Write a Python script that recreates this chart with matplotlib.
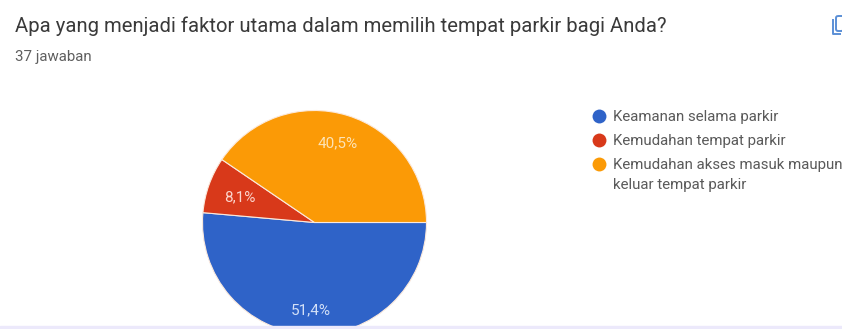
import matplotlib
matplotlib.use("Agg")
import matplotlib.pyplot as plt
from matplotlib.patches import FancyBboxPatch, Rectangle

W, H = 842, 329

title = "Apa yang menjadi faktor utama dalam memilih tempat parkir bagi Anda?"
subtitle = "37 jawaban"
categories = ["Keamanan selama parkir", "Kemudahan tempat parkir",
              "Kemudahan akses masuk maupun\nkeluar tempat parkir"]
values = [51.4, 8.1, 40.5]
pct_labels = ["51,4%", "8,1%", "40,5%"]
colors = ["#2f63c8", "#d8391a", "#fb9a06"]

plt.rcParams['font.family'] = ['Roboto', 'DejaVu Sans']

fig = plt.figure(figsize=(W / 100, H / 100), dpi=100, facecolor="white")

# pie goes a little past the bottom edge of the figure
cx, cy, r = 314.5, 222.5, 112
ax = fig.add_axes([(cx - r) / W, 1 - (cy + r) / H, 2 * r / W, 2 * r / H])
wedges, _ = ax.pie(values, colors=colors, startangle=0, counterclock=False, radius=1,
                   wedgeprops=dict(edgecolor="#fbe9dc", linewidth=0.8))
ax.set_xlim(-1, 1)
ax.set_ylim(-1, 1)

# overlay in pixel coordinates for the text and legend
over = fig.add_axes([0, 0, 1, 1])
over.set_xlim(0, W)
over.set_ylim(H, 0)
over.axis('off')
over.patch.set_alpha(0)

over.text(15, 26, title, fontsize=14.6, color="#3a3a3a", va="center")
over.text(15, 57, subtitle, fontsize=10.8, color="#5f5f5f", va="center")

# percentage labels
over.text(338, 143, pct_labels[2], fontsize=11, color="#fde3b5", ha="center", va="center")
over.text(240, 197, pct_labels[1], fontsize=11, color="#fbd5cc", ha="center", va="center")
over.text(311, 310, pct_labels[0], fontsize=11, color="#d3e0f7", ha="center", va="center")

# legend
for c, name, y in zip(colors, categories, [116, 140, 164]):
    over.plot(599, y, "o", color=c, markersize=10, markeredgewidth=0)
    over.text(613, y + 1, name.split("\n")[0], fontsize=10.8, color="#5a5a5a", va="center")
over.text(613, 185, categories[2].split("\n")[1], fontsize=10.8, color="#5a5a5a", va="center")

# copy icon in the top right corner
over.add_patch(FancyBboxPatch((836, 16), 8, 15, boxstyle="round,pad=0,rounding_size=2",
                              fill=False, edgecolor="#5b8fd6", linewidth=1.4))
over.plot([832.5, 832.5, 840], [20, 34, 34], color="#5b8fd6", linewidth=1.4)

# pale strip along the bottom
over.add_patch(Rectangle((0, 326), W, 3, color="#ece9fb", zorder=0))

fig.savefig("out.png", dpi=100)
